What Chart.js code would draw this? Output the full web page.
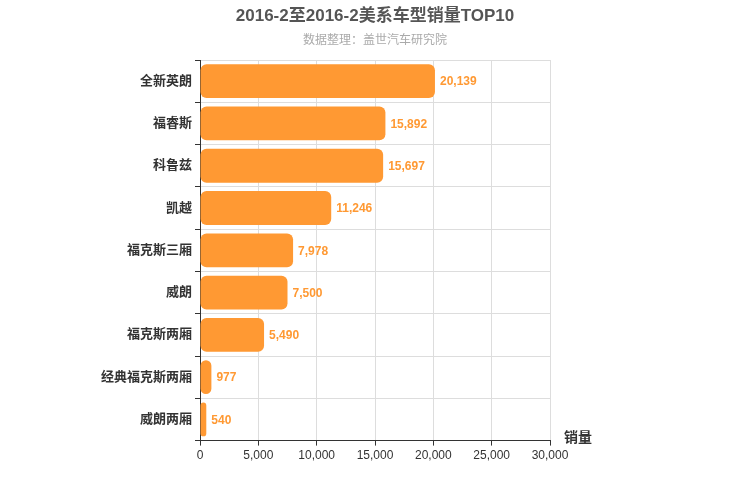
<!DOCTYPE html>
<html>
<head>
  <title>美系车型销量TOP10</title>
  <script src="https://cdn.jsdelivr.net/npm/chart.js@4"></script>
  <style>body{margin:0;background:#fff}</style>
</head>
<body>
<canvas id="myChart" width="750" height="500"></canvas>
<script>
  const models = ['全新英朗', '福睿斯', '科鲁兹', '凯越', '福克斯三厢', '威朗', '福克斯两厢', '经典福克斯两厢', '威朗两厢'];
  const sales = [20139, 15892, 15697, 11246, 7978, 7500, 5490, 977, 540];
  const font = '"Liberation Sans", "Noto Sans CJK SC", sans-serif';

  const extras = {
    id: 'extras',
    afterDraw(chart) {
      const ctx = chart.ctx;
      const meta = chart.getDatasetMeta(0);
      ctx.save();
      ctx.font = 'bold 12px ' + font;
      ctx.fillStyle = '#ff9933';
      ctx.textBaseline = 'middle';
      meta.data.forEach((bar, i) => {
        ctx.fillText(sales[i].toLocaleString('en-US'), bar.x + 5, bar.y + 1);
      });
      ctx.fillStyle = '#333';
      ctx.font = 'bold 14px ' + font;
      ctx.fillText('销量', chart.chartArea.right + 14, chart.chartArea.bottom - 2);
      ctx.textAlign = 'center';
      ctx.fillStyle = '#555';
      ctx.font = 'bold 17px ' + font;
      ctx.fillText('2016-2至2016-2美系车型销量TOP10', 375, 16);
      ctx.fillStyle = '#aaa';
      ctx.font = '12px ' + font;
      ctx.fillText('数据整理：盖世汽车研究院', 375, 41);
      ctx.restore();
    }
  };

  new Chart(document.getElementById('myChart').getContext('2d'), {
    type: 'bar',
    data: {
      labels: models,
      datasets: [{
        data: sales,
        backgroundColor: '#ff9933',
        borderRadius: 6,
        borderSkipped: false,
        barPercentage: 0.8,
        categoryPercentage: 1
      }]
    },
    options: {
      indexAxis: 'y',
      responsive: false,
      animation: false,
      layout: { padding: { left: 10, right: 200, top: 60, bottom: 34 } },
      plugins: {
        legend: { display: false },
        tooltip: { enabled: false }
      },
      scales: {
        x: {
          min: 0, max: 30000,
          ticks: { stepSize: 5000, color: '#333', font: { family: font, size: 12 },
            callback: v => v.toLocaleString('en-US') },
          grid: { color: '#ddd', tickColor: '#333', tickLength: 5 },
          border: { color: '#333' }
        },
        y: {
          afterFit: s => { s.width = 190; },
          ticks: { color: '#333', font: { family: font, size: 13, weight: 'bold' } },
          grid: { color: '#ddd', offset: true, tickColor: '#333', tickLength: 5 },
          border: { color: '#333' }
        }
      }
    },
    plugins: [extras]
  });
</script>
</body>
</html>
